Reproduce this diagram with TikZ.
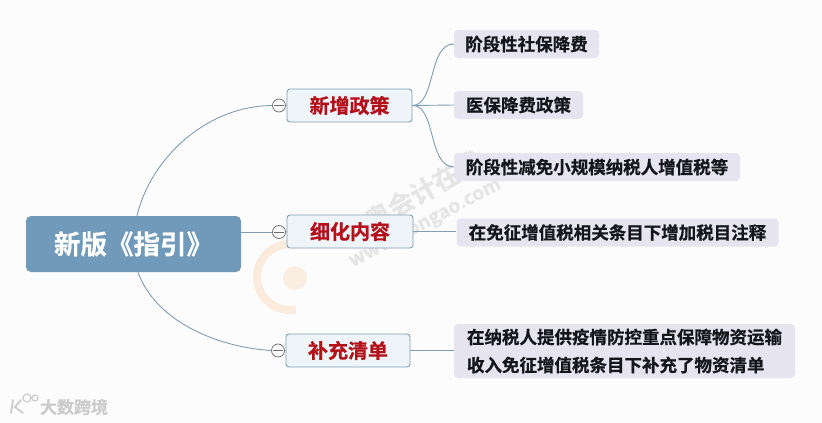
\documentclass[tikz,border=0pt]{standalone}
\usepackage{fontspec}
\setmainfont{Noto Sans CJK SC}[BoldFont={Noto Sans CJK SC Bold},BoldFeatures={FakeBold=0.6}]
\definecolor{bgc}{HTML}{FCFCFD}
\definecolor{rootc}{HTML}{7099BA}
\definecolor{linec}{HTML}{7F9DB5}
\definecolor{branchf}{HTML}{EEF4F8}
\definecolor{branchd}{HTML}{7F9FB8}
\definecolor{leaff}{HTML}{E6E4EE}
\definecolor{redt}{HTML}{B3101A}
\definecolor{darkt}{HTML}{15151C}
\definecolor{wmorange}{HTML}{FAEBDC}
\tikzset{
 x=1pt,y=-1pt,
 rootbox/.style={fill=rootc,rounded corners=5pt,minimum width=215pt,minimum height=56pt,inner sep=0pt,text=white,font=\fontsize{26.5}{28}\selectfont\bfseries},
 branchbox/.style={draw=branchd,line width=0.9pt,fill=branchf,rounded corners=3pt,minimum height=33pt,inner sep=0pt,text=redt,font=\fontsize{20}{24}\selectfont\bfseries},
 leafbox/.style={fill=leaff,rounded corners=4pt,minimum height=28pt,inner sep=0pt,text=darkt,font=\fontsize{17.5}{28}\selectfont\bfseries},
 toggle/.style={circle,draw=gray!85!black,line width=0.7pt,fill=bgc,minimum size=13pt,inner sep=0pt},
 conn/.style={draw=linec,line width=0.9pt},
 wm/.style={inner sep=0pt},
}
\begin{document}
\begin{tikzpicture}
\useasboundingbox (0,0) rectangle (822,423);
\fill[bgc] (0,0) rectangle (822,423);
% faint watermarks
\draw[wmorange,line width=8pt] (295.7,244.5) arc[start angle=80,end angle=280,radius=33pt];
\fill[wmorange,opacity=0.8] (295,278) circle[radius=12pt];
\node[wm,text=gray!20,rotate=30,font=\fontsize{26}{28}\selectfont\bfseries] (wma) at (412,197) {东奥会计在线};
\node[wm,text=gray!20,rotate=28,font=\fontsize{19}{20}\selectfont\bfseries] (wmb) at (425,223) {www.dongao.com};
\node[wm,text=gray!40,font=\fontsize{17}{20}\selectfont\bfseries] (wmc) at (74,407) {大数跨境};
\draw[gray!40,line width=1.8pt,line cap=round] (13,400) -- (11,413) (21,400) -- (15,407) -- (23,413);
\draw[gray!40,line width=1.2pt] (27,398) circle[radius=4pt] (35,398) circle[radius=3pt];
% nodes
\node[rootbox] (root) at (133.5,244) {新版《指引》};
\node[branchbox,minimum width=125pt] (b1) at (349.5,105.5) {新增政策};
\node[branchbox,minimum width=126pt] (b2) at (350,231.5) {细化内容};
\node[branchbox,minimum width=124pt] (b3) at (348,350.5) {补充清单};
\node[toggle] (t1) at (279,105.5) {};
\node[toggle] (t2) at (279,232) {};
\node[toggle] (t3) at (278,350.5) {};
\node[leafbox,minimum width=145pt] (l1) at (526.5,44) {阶段性社保降费};
\node[leafbox,minimum width=129pt] (l2) at (518.5,105) {医保降费政策};
\node[leafbox,minimum width=286pt] (l3) at (597,167) {阶段性减免小规模纳税人增值税等};
\node[leafbox,minimum width=322pt] (l4) at (617.5,232.5) {在免征增值税相关条目下增加税目注释};
\node[leafbox,minimum width=341pt,minimum height=54pt,align=left] (l5) at (624.5,351) {在纳税人提供疫情防控重点保障物资运输\\收入免征增值税条目下补充了物资清单};
% connectors
\draw[conn] ([xshift=3.5pt]root.north) .. controls (150,160) and (205,106) .. (t1.west);
\draw[conn] (root.east |- t2) -- (t2.west);
\draw[conn] ([xshift=4.5pt]root.south) .. controls (155,320) and (215,347) .. (t3.west);
\draw[conn] (t1.east) -- (b1.west) (t2.east) -- (b2.west) (t3.east) -- (b3.west);
\draw[conn] (b1.east) .. controls (436,105) and (428,44) .. (l1.west);
\draw[conn] (b1.east) -- (l2.west);
\draw[conn] (b1.east) .. controls (436,105) and (428,167) .. (l3.west);
\draw[conn] (b2.east) -- (l4.west |- b2.east);
\draw[conn] (b3.east) -- (l5.west |- b3.east);
\foreach \t in {t1,t2,t3}{\draw[gray!85!black,line width=0.7pt] ([xshift=1.5pt]\t.west) -- ([xshift=-1.5pt]\t.east);}
\end{tikzpicture}
\end{document}
